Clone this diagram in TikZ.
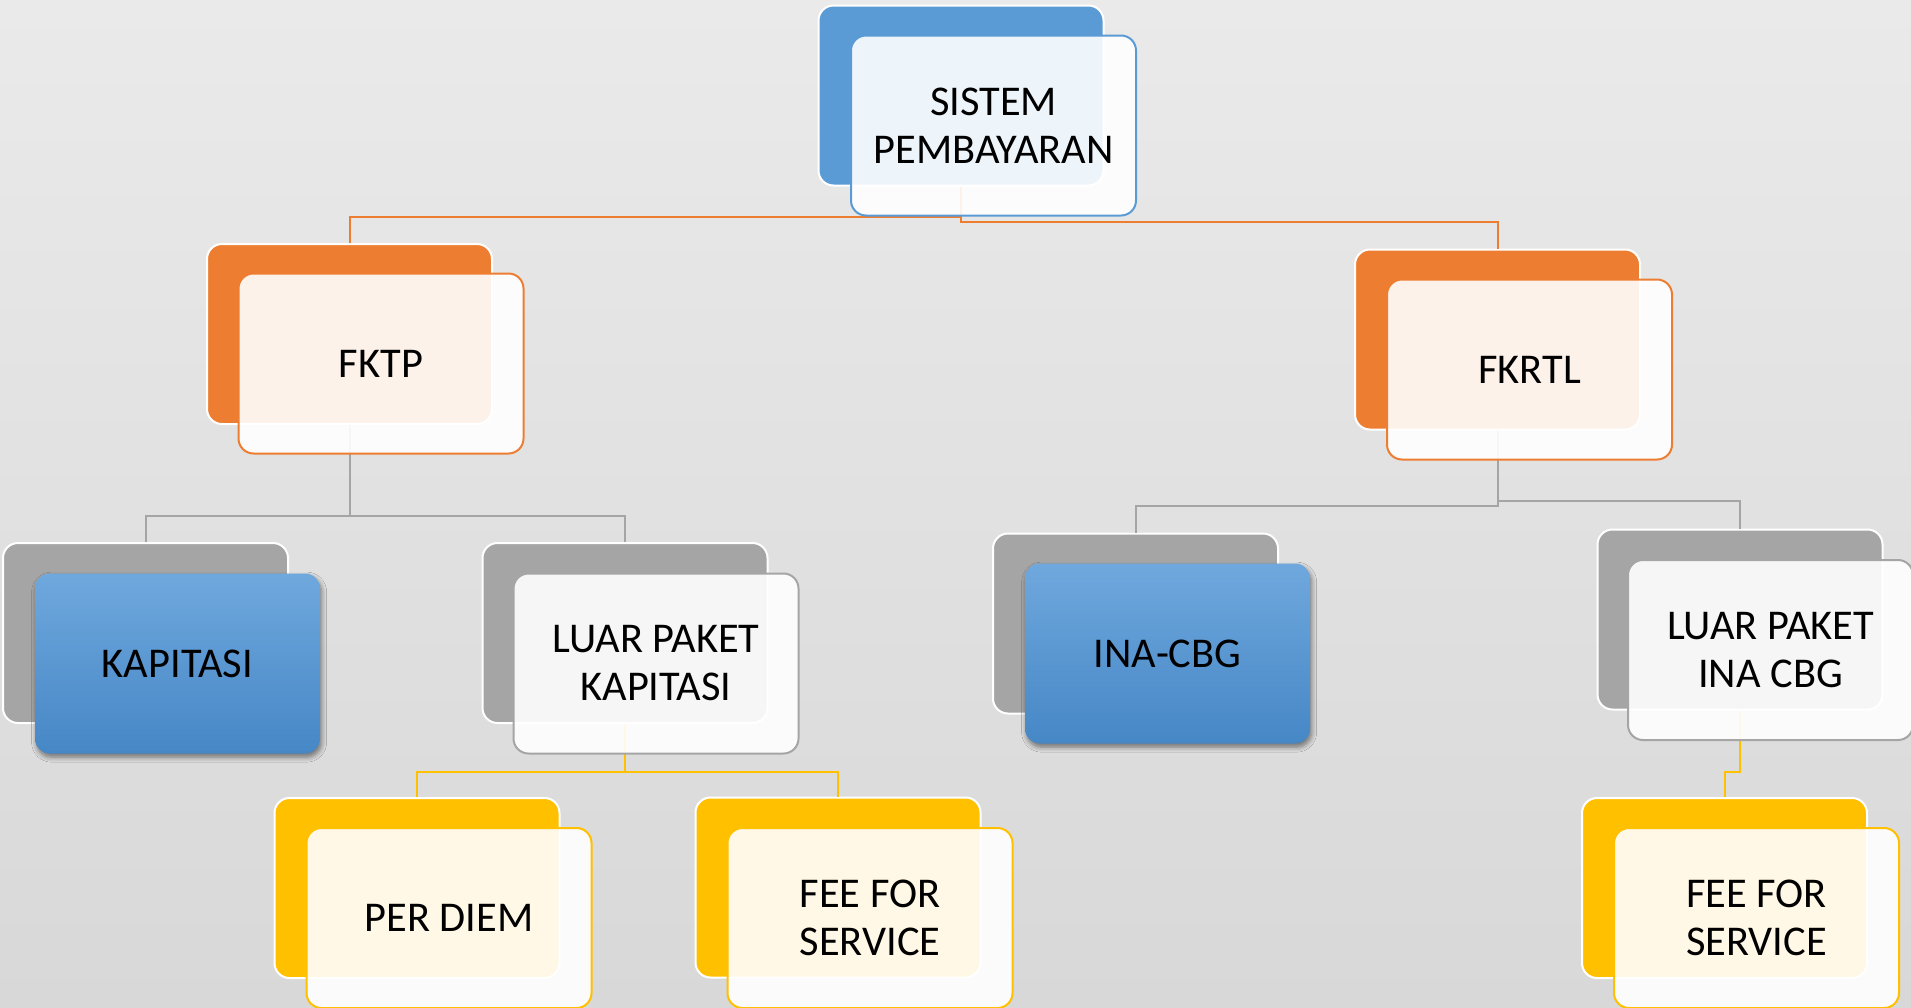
\documentclass[tikz,border=0pt]{standalone}
\usepackage{fontspec}
\setmainfont{Carlito}
\usetikzlibrary{shadows.blur}
\definecolor{oblue}{HTML}{5B9BD5}
\definecolor{oorange}{HTML}{ED7D31}
\definecolor{ogrey}{HTML}{A5A5A5}
\definecolor{oyellow}{HTML}{FFC000}
\definecolor{bgtop}{HTML}{EAEAEA}
\definecolor{bgbot}{HTML}{D8D8D8}
\definecolor{bluetop}{HTML}{6FA8DD}
\definecolor{bluebot}{HTML}{4687C6}
\begin{document}
\begin{tikzpicture}[x=0.5pt,y=-0.5pt,
  backbox/.style={rounded corners=7.5pt, minimum width=142.5pt, minimum height=90pt,
    draw=white, line width=1pt, inner sep=0pt},
  frontbox/.style={rounded corners=7.5pt, minimum width=142.5pt, minimum height=90pt,
    fill=white, fill opacity=0.9, text opacity=1, line width=1pt, align=center,
    font=\fontsize{21.2}{24}\selectfont, text=black, inner sep=0pt},
  bluebox/.style={rounded corners=7.5pt, minimum width=142.5pt, minimum height=90pt,
    top color=bluetop, bottom color=bluebot, align=center,
    font=\fontsize{21.2}{24}\selectfont, text=black, inner sep=0pt,
    blur shadow={shadow xshift=0.8pt, shadow yshift=-1.8pt, shadow blur steps=6, shadow opacity=50, shadow blur radius=2.5pt}},
  conn/.style={line width=1pt}]
\useasboundingbox (0,0) rectangle (1911,1007);
\shade[top color=bgtop, bottom color=bgbot] (0,0) rectangle (1911,1007);

% back boxes
\node[backbox, fill=oblue]   (sisb)   at (961,95.5) {};
\node[backbox, fill=oorange] (fktpb)  at (349.5,334) {};
\node[backbox, fill=oorange] (fkrtlb) at (1497.5,339.5) {};
\node[backbox, fill=ogrey]   (kapb)   at (145.5,633) {};
\node[backbox, fill=ogrey]   (lpkb)   at (625,633) {};
\node[backbox, fill=ogrey]   (inab)   at (1135.5,623.5) {};
\node[backbox, fill=ogrey]   (lpib)   at (1740,619.5) {};
\node[backbox, fill=oyellow] (pdb)    at (417,888) {};
\node[backbox, fill=oyellow] (ffsab)  at (838,887.5) {};
\node[backbox, fill=oyellow] (ffsbb)  at (1724.5,888) {};

% connectors
\draw[conn, oorange] (sisb.south) -- (sisb.south |- 0,217) -| (fktpb.north);
\draw[conn, oorange] (sisb.south) -- (sisb.south |- 0,222) -| (fkrtlb.north);
\draw[conn, ogrey] (fktpb.south) -- (fktpb.south |- 0,516) -| (kapb.north);
\draw[conn, ogrey] (fktpb.south) -- (fktpb.south |- 0,516) -| (lpkb.north);
\draw[conn, ogrey] (fkrtlb.south) -- (fkrtlb.south |- 0,506) -| (inab.north);
\draw[conn, ogrey] (fkrtlb.south) -- (fkrtlb.south |- 0,501) -| (lpib.north);
\draw[conn, oyellow] (lpkb.south) -- (lpkb.south |- 0,772) -| (pdb.north);
\draw[conn, oyellow] (lpkb.south) -- (lpkb.south |- 0,772) -| (ffsab.north);
\draw[conn, oyellow] (lpib.south) -- (lpib.south |- 0,772) -| (ffsbb.north);

% front boxes
\node[frontbox, draw=oblue]   (sis)   at (993.5,125.5) {SISTEM\\PEMBAYARAN};
\node[frontbox, draw=oorange] (fktp)  at (381,363.5) {FKTP};
\node[frontbox, draw=oorange] (fkrtl) at (1529.5,369.5) {FKRTL};
\node[bluebox]                (kap)   at (177.5,663.5) {KAPITASI};
\node[frontbox, draw=ogrey]   (lpk)   at (656,663.5) {LUAR PAKET\\KAPITASI};
\node[bluebox]                (ina)   at (1167.5,653.5) {INA-CBG};
\node[frontbox, draw=ogrey]   (lpi)   at (1770.5,650) {LUAR PAKET\\INA CBG};
\node[frontbox, draw=oyellow] (pd)    at (449,918) {PER DIEM};
\node[frontbox, draw=oyellow] (ffsa)  at (870,918) {FEE FOR\\SERVICE};
\node[frontbox, draw=oyellow] (ffsb)  at (1756.5,918) {FEE FOR\\SERVICE};
\end{tikzpicture}
\end{document}
